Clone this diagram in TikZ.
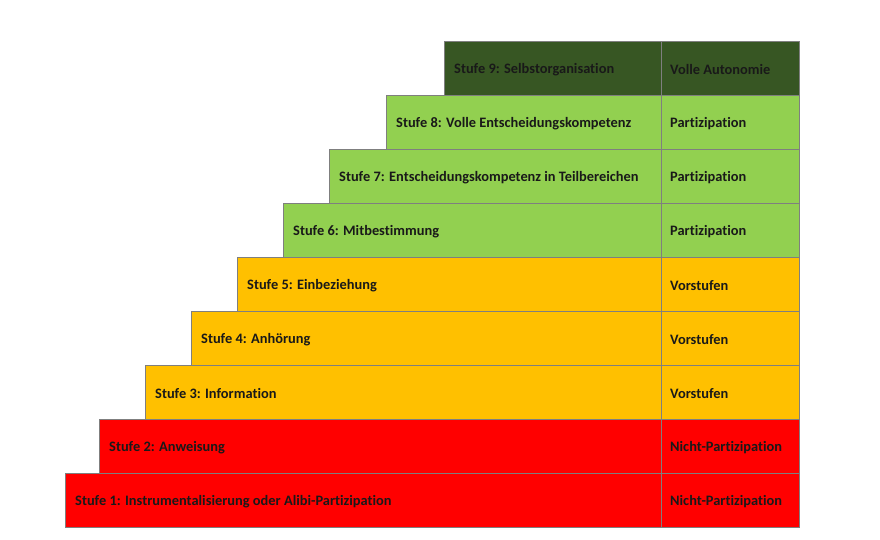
\documentclass[tikz,border=0pt]{standalone}
\usepackage{fontspec}
\setmainfont[Ligatures=NoCommon]{Carlito}
\definecolor{dgreen}{HTML}{375623}
\definecolor{lgreen}{HTML}{92D050}
\definecolor{orange}{HTML}{FFC000}
\definecolor{red}{HTML}{FF0000}
\definecolor{edge}{HTML}{7F7F7F}
\begin{document}
\begin{tikzpicture}[x=1pt,y=-1pt,
  cell/.style={draw=edge,line width=0.8pt,anchor=north west,inner sep=0pt,
    minimum height=54pt},
  lab/.style={anchor=west,inner sep=0pt,font=\bfseries\fontsize{14.4}{16}\selectfont,text=black!90}]
\useasboundingbox (0,0) rectangle (880,540);
% rows: name, left x, top y, colour, left text, right text
\foreach \n/\lx/\ty/\col/\lt/\rt in {
  9/444/41/dgreen/{Stufe 9: Selbstorganisation}/{Volle Autonomie},
  8/386/95/lgreen/{Stufe 8: Volle Entscheidungskompetenz}/{Partizipation},
  7/329/149/lgreen/{Stufe 7: Entscheidungskompetenz in Teilbereichen}/{Partizipation},
  6/283/203/lgreen/{Stufe 6: Mitbestimmung}/{Partizipation},
  5/237/257/orange/{Stufe 5: Einbeziehung}/{Vorstufen},
  4/191/311/orange/{Stufe 4: Anhörung}/{Vorstufen},
  3/145/365/orange/{Stufe 3: Information}/{Vorstufen},
  2/99/419/red/{Stufe 2: Anweisung}/{Nicht-Partizipation},
  1/65/473/red/{Stufe 1: Instrumentalisierung oder Alibi-Partizipation}/{Nicht-Partizipation}}{
  \pgfmathsetmacro{\w}{661-\lx}
  \node[cell,fill=\col,minimum width=\w pt] (L\n) at (\lx,\ty) {};
  \node[cell,fill=\col,minimum width=138pt] (R\n) at (661,\ty) {};
  \node[lab] (LT\n) at ([xshift=10pt,yshift=-1.2pt]L\n.west) {\lt};
  \node[lab] (RT\n) at ([xshift=9pt,yshift=-1.2pt]R\n.west) {\rt};
}
\end{tikzpicture}
\end{document}
